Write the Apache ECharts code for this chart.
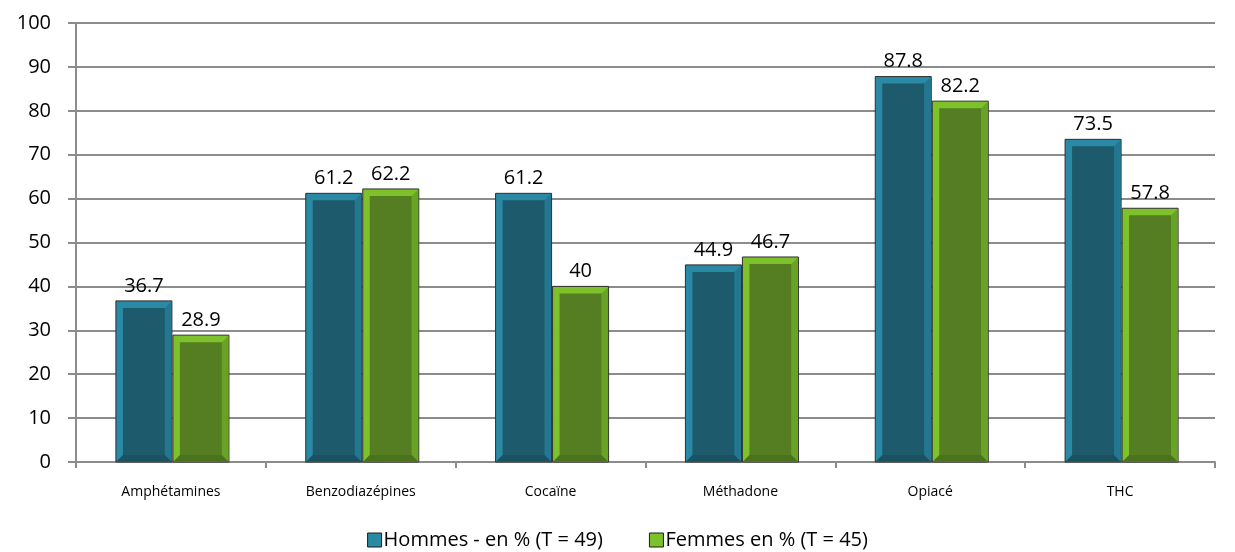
<!DOCTYPE html>
<html>
<head>
<meta charset="utf-8">
<script src="https://cdn.jsdelivr.net/npm/echarts@6/dist/echarts.min.js"></script>
<style>
  html, body { margin: 0; padding: 0; background: #fff; }
  #chart { width: 1235px; height: 552px; }
</style>
</head>
<body>
<div id="chart"></div>
<script>
// data
const categories = ['Amphétamines', 'Benzodiazépines', 'Cocaïne', 'Méthadone', 'Opiacé', 'THC'];
const hommes = [36.7, 61.2, 61.2, 44.9, 87.8, 73.5];
const femmes = [28.9, 62.2, 40, 46.7, 82.2, 57.8];
const seriesNames = ['Hommes - en % (T = 49)', 'Femmes en % (T = 45)'];

// bevel colours: light edge, right edge, bottom edge, inner face
const palettes = [
  { light: '#2a8aa6', right: '#237790', bottom: '#1a5262', inner: '#1d5a6c' },
  { light: '#7dc22b', right: '#69a325', bottom: '#4b721d', inner: '#557d22' }
];

const FONT = '"Open Sans", "Noto Sans", sans-serif';

function makeRender(seriesIdx) {
  const pal = palettes[seriesIdx];
  return function (params, api) {
    const cat = api.value(0);
    const val = api.value(1);
    const base = api.coord([cat, 0]);
    const top = api.coord([cat, val]);
    const band = api.size([1, 0])[0];
    const w = Math.round(band * 0.295);
    const x = seriesIdx === 0 ? base[0] - w + 1 : base[0] + 2;
    const y = top[1];
    const h = base[1] - top[1];
    const b = 7;
    return {
      type: 'group',
      children: [
        { type: 'rect', shape: { x: x, y: y, width: w, height: h },
          style: { fill: pal.light, stroke: '#2e2e2e', lineWidth: 1 } },
        { type: 'polygon',
          shape: { points: [[x + w - 0.5, y + 0.5], [x + w - 0.5, base[1]], [x + w - b, base[1] - b], [x + w - b, y + b]] },
          style: { fill: pal.right } },
        { type: 'polygon',
          shape: { points: [[x + 0.5, base[1] - 0.5], [x + w - 0.5, base[1] - 0.5], [x + w - b, base[1] - b], [x + b, base[1] - b]] },
          style: { fill: pal.bottom } },
        { type: 'rect', shape: { x: x + b, y: y + b, width: w - 2 * b, height: Math.max(h - 2 * b, 0) },
          style: { fill: pal.inner } },
        { type: 'text',
          style: { text: String(val), x: x + w / 2, y: y - 5, align: 'center', verticalAlign: 'bottom',
                   font: '20px ' + FONT, fill: '#000' } }
      ]
    };
  };
}

const chart = echarts.init(document.getElementById('chart'));
chart.setOption({
  animation: false,
  grid: { left: 76, right: 20, top: 23, bottom: 90 },
  legend: {
    bottom: -3,
    left: 'center',
    itemWidth: 14,
    itemHeight: 14,
    itemGap: 46,
    icon: 'rect',
    textStyle: { fontSize: 20, color: '#000', fontFamily: FONT, padding: [0, 0, 0, -3] },
    data: [
      { name: seriesNames[0], itemStyle: { color: palettes[0].light, borderColor: '#1b1b1b', borderWidth: 1 } },
      { name: seriesNames[1], itemStyle: { color: palettes[1].light, borderColor: '#1b1b1b', borderWidth: 1 } }
    ]
  },
  xAxis: {
    type: 'category',
    data: categories,
    axisLine: { lineStyle: { color: '#8c8c8c', width: 2 } },
    axisTick: { show: true, length: 6, lineStyle: { color: '#8c8c8c', width: 2 } },
    axisLabel: { fontSize: 14, color: '#000', fontFamily: FONT, margin: 23 }
  },
  yAxis: {
    type: 'value',
    min: 0,
    max: 100,
    interval: 10,
    axisLine: { show: true, lineStyle: { color: '#8c8c8c', width: 2 } },
    axisTick: { show: true, length: 8, lineStyle: { color: '#8c8c8c', width: 2 } },
    axisLabel: { fontSize: 20, color: '#000', fontFamily: FONT, margin: 25 },
    splitLine: { lineStyle: { color: '#8c8c8c', width: 2 } }
  },
  series: [
    {
      name: seriesNames[0],
      type: 'custom',
      renderItem: makeRender(0),
      encode: { x: 0, y: 1 },
      itemStyle: { color: palettes[0].light },
      data: hommes.map((v, i) => [i, v])
    },
    {
      name: seriesNames[1],
      type: 'custom',
      renderItem: makeRender(1),
      encode: { x: 0, y: 1 },
      itemStyle: { color: palettes[1].light },
      data: femmes.map((v, i) => [i, v])
    }
  ]
});
</script>
</body>
</html>
